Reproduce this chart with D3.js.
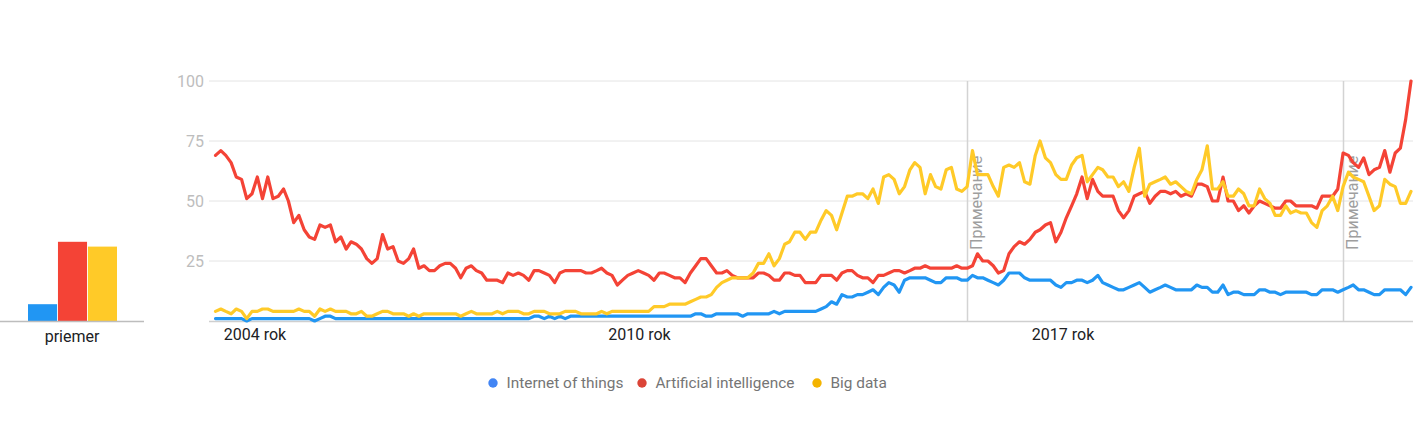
<!DOCTYPE html>
<html>
<head>
<meta charset="utf-8">
<script src="https://cdn.jsdelivr.net/npm/d3@7"></script>
<style>
  html, body { margin: 0; padding: 0; background: #fff; }
  svg { display: block; font-family: Roboto, "Noto Sans", Arial, sans-serif; }
</style>
</head>
<body>
<svg id="chart" width="1421" height="421"></svg>
<script>
// ---------- DATA ----------
const seriesNames = ["Internet of things", "Artificial intelligence", "Big data"];
const startMonth = "2004-01";   // monthly data, one value per month
const averageLabel = "priemer";
const averages = [7, 33, 31];

const internetOfThings = [
  1,1,1,1,1,1,0,1,1,1,1,1,1,1,1,1,1,1,1,0,1,2,2,1,1,1,1,1,1,1,1,1,1,1,1,1,1,1,
  1,1,1,1,1,1,1,1,1,1,1,1,1,1,1,1,1,1,1,1,1,1,1,2,2,1,2,1,2,1,2,2,2,2,2,2,2,2,
  2,2,2,2,2,2,2,2,2,2,2,2,2,2,2,2,3,3,2,2,3,3,3,3,3,2,3,3,3,3,3,4,3,4,4,4,4,4,
  4,4,5,6,8,7,11,10,10,11,11,12,13,11,14,16,15,12,17,18,18,18,18,17,16,16,18,18,18,17,17,19,18,18,17,16,15,17,20,
  20,20,18,17,17,17,17,17,15,14,16,16,17,17,16,17,19,16,15,14,13,13,14,15,16,14,12,13,14,15,14,13,13,13,13,15,14,14,
  12,12,15,11,12,12,11,11,11,13,13,12,12,11,12,12,12,12,12,11,11,13,13,13,12,13,14,15,13,13,12,11,11,13,13,13,13,11,14
];
const artificialIntelligence = [
  69,71,69,66,60,59,51,53,60,51,60,51,52,55,50,41,44,38,35,34,40,39,40,33,35,30,33,32,30,26,24,26,36,30,31,25,24,26,
  30,22,23,21,21,23,24,24,22,18,22,23,21,20,17,17,17,16,20,19,20,19,17,21,21,20,19,16,20,21,21,21,21,20,20,21,22,20,
  19,15,17,19,20,21,20,19,17,20,20,19,18,18,16,20,23,26,26,23,20,20,21,19,18,18,18,18,20,20,19,17,17,20,20,19,19,16,
  16,16,19,19,19,17,20,21,21,19,18,18,16,19,19,20,21,21,20,21,22,22,23,22,22,22,22,22,23,22,22,23,28,25,25,23,20,21,28,
  31,33,32,34,37,38,40,41,33,37,43,48,53,60,51,59,54,52,52,52,46,43,46,52,53,54,49,52,54,54,53,54,52,53,52,57,57,56,
  50,50,60,50,50,46,48,45,48,50,49,48,47,47,50,50,48,48,48,48,47,52,52,52,55,70,69,66,64,68,61,63,64,71,62,70,72,84,100
];
const bigData = [
  4,5,4,3,5,4,1,4,4,5,5,4,4,4,4,4,5,4,4,2,5,4,5,4,4,4,3,3,4,2,2,3,4,4,3,3,3,2,
  3,2,3,3,3,3,3,3,3,2,3,4,3,3,3,3,4,3,4,4,4,3,3,4,4,4,3,3,3,4,4,4,3,3,3,3,4,3,
  4,4,4,4,4,4,4,4,6,6,6,7,7,7,7,8,9,10,10,11,14,16,17,18,18,18,18,20,24,24,28,23,26,32,33,37,37,34,
  37,37,42,46,44,38,45,52,52,53,53,51,55,49,60,61,59,53,56,63,66,64,53,61,56,55,63,64,55,54,56,71,61,61,61,56,52,64,65,
  64,66,58,57,69,75,68,66,61,59,59,65,68,69,58,61,64,63,60,60,56,58,54,64,72,52,57,58,59,60,57,58,56,54,53,59,63,73,
  55,55,58,52,52,55,53,48,48,55,51,49,44,44,48,45,46,45,45,41,39,46,48,52,46,56,62,60,59,58,52,46,48,59,57,56,49,49,54
];

const yTicks = [25, 50, 75, 100];
const xTickDates = ["2004-08-18", "2010-10-08", "2017-07-13"];
const xTickLabels = ["2004 rok", "2010 rok", "2017 rok"];
const noteDates = ["2016-01-01", "2022-01-01"];
const noteLabel = "Примечание";

// ---------- STYLE ----------
const lineColors = ["#2196F3", "#F44336", "#FFCA28"];
const dotColors = ["#4285F4", "#DB4437", "#F4B400"];

// ---------- BUILD ----------
const svg = d3.select("#chart");
const parseMonth = d3.timeParse("%Y-%m");
const parseDay = d3.timeParse("%Y-%m-%d");
const t0 = parseMonth(startMonth);
const allSeries = [internetOfThings, artificialIntelligence, bigData];
const dates = internetOfThings.map((_, i) => d3.timeMonth.offset(t0, i));

const x = d3.scaleTime()
  .domain([dates[0], dates[dates.length - 1]])
  .range([215.5, 1411]);
const y = d3.scaleLinear().domain([0, 100]).range([321, 81]);

// gridlines
svg.append("g").selectAll("line").data(yTicks).join("line")
  .attr("x1", 209).attr("x2", 1413)
  .attr("y1", d => y(d)).attr("y2", d => y(d))
  .attr("stroke", "#e4e4e4").attr("stroke-width", 1);

// y labels
svg.append("g").selectAll("text").data(yTicks).join("text")
  .attr("x", 204).attr("y", d => y(d) + 6)
  .attr("text-anchor", "end")
  .attr("font-size", 16).attr("fill", "#bdbdbd")
  .text(d => d);

// note lines
const notes = svg.append("g");
noteDates.forEach(s => {
  const nx = Math.round(x(parseDay(s))) + 0.5;
  notes.append("line")
    .attr("x1", nx).attr("x2", nx).attr("y1", y(100)).attr("y2", y(0))
    .attr("stroke", "#d3d3d3").attr("stroke-width", 1.5);
  notes.append("text")
    .attr("transform", `translate(${nx + 14},${250}) rotate(-90)`)
    .attr("font-size", 16).attr("fill", "#9e9e9e")
    .text(noteLabel);
});

// baseline
svg.append("line")
  .attr("x1", 209).attr("x2", 1413).attr("y1", y(0) + 0.5).attr("y2", y(0) + 0.5)
  .attr("stroke", "#cfcfcf").attr("stroke-width", 1.5);

// lines
const line = d3.line().x((d, i) => x(dates[i])).y(d => y(d));
svg.append("g").selectAll("path").data(allSeries).join("path")
  .attr("d", d => line(d))
  .attr("fill", "none")
  .attr("stroke", (d, i) => lineColors[i])
  .attr("stroke-width", 3.2)
  .attr("stroke-linejoin", "round")
  .attr("stroke-linecap", "round");

// x labels
svg.append("g").selectAll("text").data(xTickDates).join("text")
  .attr("x", d => x(parseDay(d))).attr("y", 340)
  .attr("text-anchor", "middle")
  .attr("font-size", 16).attr("fill", "#202124")
  .text((d, i) => xTickLabels[i]);

// average bar chart
const bx = d3.scaleBand().domain(seriesNames).range([28, 117]).paddingInner(0.03);
svg.append("g").selectAll("rect").data(averages).join("rect")
  .attr("x", (d, i) => bx(seriesNames[i]))
  .attr("width", bx.bandwidth())
  .attr("y", d => y(d)).attr("height", d => y(0) - y(d))
  .attr("fill", (d, i) => lineColors[i]);
svg.append("line")
  .attr("x1", 0).attr("x2", 144).attr("y1", y(0) + 0.5).attr("y2", y(0) + 0.5)
  .attr("stroke", "#bdbdbd").attr("stroke-width", 1.5);
svg.append("text")
  .attr("x", 72).attr("y", 342).attr("text-anchor", "middle")
  .attr("font-size", 16).attr("fill", "#202124")
  .text(averageLabel);

// legend
const legendX = [493, 642, 817];
const lg = svg.append("g").selectAll("g").data(seriesNames).join("g")
  .attr("transform", (d, i) => `translate(${legendX[i]},383)`);
lg.append("circle").attr("r", 4.7).attr("fill", (d, i) => dotColors[i]);
lg.append("text").attr("x", 13.5).attr("y", 5)
  .attr("font-size", 15.4).attr("fill", "#757575")
  .text(d => d);
</script>
</body>
</html>
